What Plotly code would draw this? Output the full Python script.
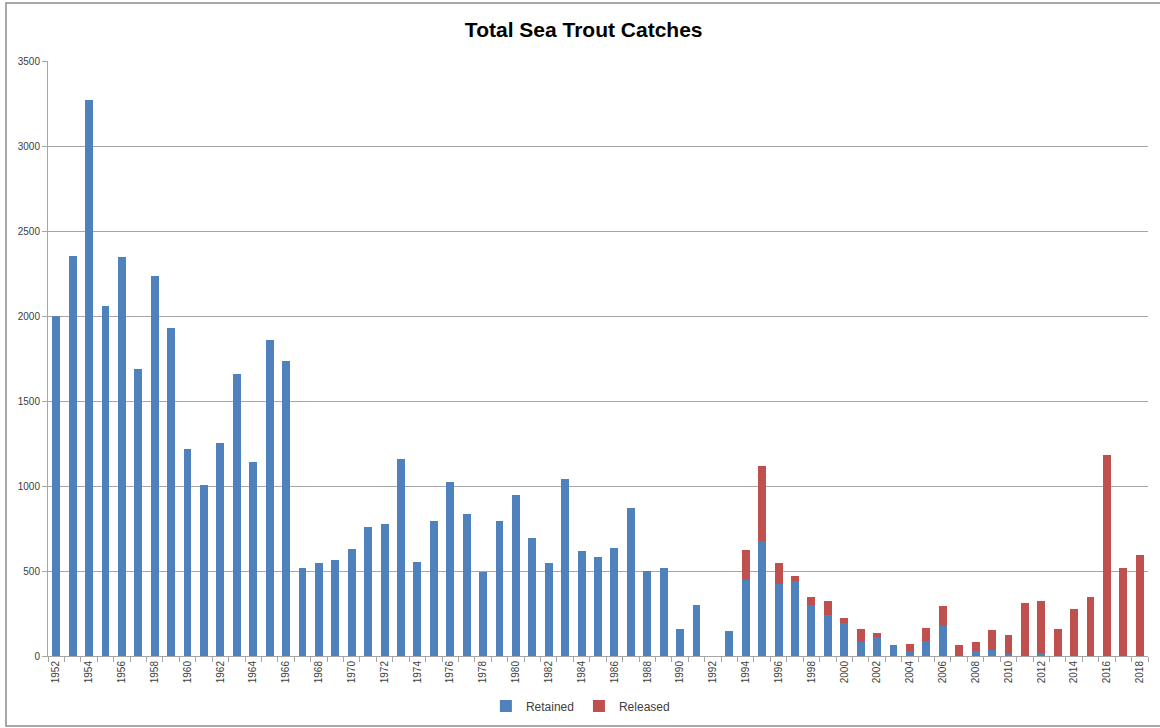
import plotly.graph_objects as go

years = list(range(1952, 2019))

retained = [
    2000, 2355, 3270, 2060, 2350, 1690, 2235, 1930, 1215, 1005,
    1255, 1660, 1140, 1860, 1735, 520, 550, 565, 630, 760,
    775, 1160, 555, 795, 1025, 835, 495, 795, 945, 695,
    550, 1040, 620, 585, 635, 870, 500, 520, 160, 300,
    0, 150, 450, 675, 425, 440, 300, 240, 195, 85,
    110, 62, 30, 90, 175, 0, 28, 35, 12, 0,
    18, 0, 0, 0, 0, 0, 0,
]

released = [
    0, 0, 0, 0, 0, 0, 0, 0, 0, 0,
    0, 0, 0, 0, 0, 0, 0, 0, 0, 0,
    0, 0, 0, 0, 0, 0, 0, 0, 0, 0,
    0, 0, 0, 0, 0, 0, 0, 0, 0, 0,
    0, 0, 173, 443, 122, 32, 50, 85, 28, 74,
    27, 0, 40, 73, 121, 65, 54, 116, 112, 314,
    307, 159, 275, 349, 1184, 516, 594,
]

y_ticks = [0, 500, 1000, 1500, 2000, 2500, 3000, 3500]
label_years = [y for y in years if y % 2 == 0]
boundaries = [y - 0.5 for y in years] + [years[-1] + 0.5]

BLUE = "#4F81BD"
RED = "#C0504D"
GRID = "#A6A6A6"
FONT = "Liberation Sans"

fig = go.Figure()
fig.add_trace(go.Bar(
    x=years, y=retained, name="Retained",
    marker=dict(color=BLUE, line=dict(width=0)),
    width=0.48,
))
fig.add_trace(go.Bar(
    x=years, y=released, name="Released",
    marker=dict(color=RED, line=dict(width=0)),
    width=0.48,
))

fig.update_layout(
    barmode="stack",
    width=1160, height=728,
    margin=dict(l=48, r=12, t=61, b=72, autoexpand=False),
    paper_bgcolor="white",
    plot_bgcolor="white",
    font=dict(family=FONT, color="#404040", size=10),
    title=dict(
        text="<b>Total Sea Trout Catches</b>",
        x=0.487, xanchor="center", xref="paper",
        y=1 - 30 / 728, yref="container", yanchor="middle",
        font=dict(family=FONT, size=21, color="black"),
    ),
    showlegend=True,
    legend=dict(
        orientation="h", x=0.484, xanchor="center",
        y=1 - 706 / 728, yref="container", yanchor="middle",
        font=dict(family=FONT, size=12, color="#404040"),
        itemwidth=30, traceorder="normal",
    ),
    xaxis=dict(
        range=[1951.5, 2018.5], automargin=False,
        tickmode="array", tickvals=label_years,
        ticktext=[str(y) for y in label_years],
        tickangle=-90, ticks="", showgrid=False,
        showline=True, linecolor=GRID, linewidth=1,
        tickfont=dict(family=FONT, size=10, color="#404040"),
        minor=dict(tickmode="array", tickvals=boundaries,
                   ticks="outside", ticklen=5, tickcolor=GRID,
                   showgrid=False),
        zeroline=False,
    ),
    yaxis=dict(
        range=[0, 3500], automargin=False,
        tickmode="array", tickvals=y_ticks,
        showgrid=True, gridcolor=GRID, gridwidth=1,
        showline=True, linecolor=GRID, linewidth=1,
        ticks="outside", ticklen=5, tickcolor=GRID,
        tickfont=dict(family=FONT, size=10, color="#404040"),
        zeroline=False,
    ),
    shapes=[dict(
        type="rect", xref="paper", yref="paper",
        x0=-0.0382, x1=1.02, y0=-0.1176, y1=1.0975,
        line=dict(color="#8C8C8C", width=1.5),
        fillcolor="rgba(0,0,0,0)", layer="below",
    )],
)

fig.write_html("out.html")
